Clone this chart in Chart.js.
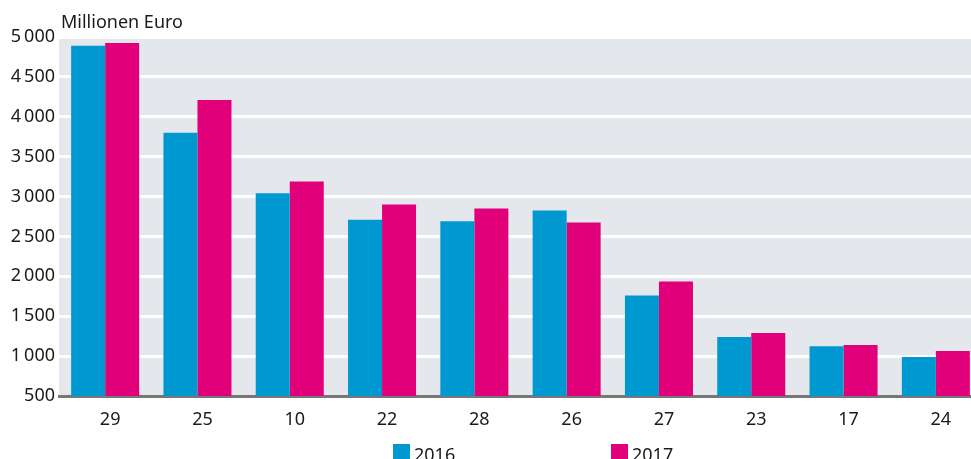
<!DOCTYPE html>
<html>
<head>
<meta charset="utf-8">
<script src="https://cdn.jsdelivr.net/npm/chart.js@4.4.1/dist/chart.umd.min.js"></script>
<style>
  html, body { margin: 0; padding: 0; background: #fff; overflow: hidden; }
  #wrap { width: 971px; height: 459px; position: relative; overflow: hidden; }
</style>
</head>
<body>
<div id="wrap"><canvas id="chart" width="982" height="459"></canvas></div>
<script>
// chart data
var categories = ['29', '25', '10', '22', '28', '26', '27', '23', '17', '24'];
var values2016 = [4890, 3800, 3040, 2710, 2690, 2825, 1760, 1240, 1125, 990];
var values2017 = [4925, 4210, 3190, 2900, 2850, 2675, 1935, 1290, 1140, 1065];
var seriesLabels = ['2016', '2017'];
var yTicks = [500, 1000, 1500, 2000, 2500, 3000, 3500, 4000, 4500, 5000];
var unitLabel = 'Millionen Euro';

var FONT = '"Noto Sans", "Open Sans", sans-serif';

// format like 1 000 with a thin space
function formatTick(v) {
    var s = String(v);
    if (s.length > 3) {
        s = s.slice(0, s.length - 3) + '\u2009' + s.slice(s.length - 3);
    }
    return s;
}

// grey plot background + unit label + legend
var decorPlugin = {
    id: 'decor',
    beforeDraw: function(chart) {
        var ctx = chart.ctx;
        var a = chart.chartArea;
        ctx.save();
        ctx.fillStyle = '#e4e8ec';
        ctx.fillRect(a.left, a.top, a.right - a.left, a.bottom - a.top);
        ctx.restore();
    },
    afterDraw: function(chart) {
        var ctx = chart.ctx;
        var a = chart.chartArea;
        ctx.save();
        ctx.font = '18px ' + FONT;
        ctx.fillStyle = '#1a1a1a';
        ctx.textBaseline = 'alphabetic';
        ctx.textAlign = 'left';
        ctx.fillText(unitLabel, a.left + 2, 28);

        // legend
        var xs = [393, 611];
        chart.data.datasets.forEach(function(ds, i) {
            ctx.fillStyle = ds.backgroundColor;
            ctx.fillRect(xs[i], 444, 17, 17);
            ctx.fillStyle = '#1a1a1a';
            ctx.fillText(ds.label, xs[i] + 21, 461);
        });
        ctx.restore();
    }
};

var ctx = document.getElementById('chart').getContext('2d');
var chart = new Chart(ctx, {
    type: 'bar',
    data: {
        labels: categories,
        datasets: [{
            label: seriesLabels[0],
            data: values2016,
            backgroundColor: '#0098d1',
            borderWidth: 0
        }, {
            label: seriesLabels[1],
            data: values2017,
            backgroundColor: '#e2007a',
            borderWidth: 0
        }]
    },
    options: {
        responsive: false,
        animation: false,
        devicePixelRatio: 1,
        layout: { padding: { top: 37, right: 0, bottom: 0, left: 0 } },
        plugins: {
            legend: { display: false },
            tooltip: { enabled: false }
        },
        datasets: {
            bar: { categoryPercentage: 0.737, barPercentage: 1.0 }
        },
        scales: {
            x: {
                grid: { display: false, drawTicks: false },
                border: { display: true, color: '#777777', width: 3 },
                ticks: {
                    color: '#1a1a1a',
                    font: { family: FONT, size: 18 },
                    padding: 13,
                    labelOffset: 5
                },
                afterFit: function(scale) { scale.height = 63; }
            },
            y: {
                min: 500,
                max: 5000,
                afterBuildTicks: function(scale) {
                    scale.ticks = yTicks.map(function(v) { return { value: v }; });
                },
                grid: { color: '#ffffff', lineWidth: 3, drawTicks: false },
                border: { display: false },
                ticks: {
                    color: '#1a1a1a',
                    font: { family: FONT, size: 18 },
                    padding: 4,
                    callback: function(v) { return formatTick(v); }
                },
                afterFit: function(scale) { scale.width = 59; }
            }
        }
    },
    plugins: [decorPlugin]
});
</script>
</body>
</html>
